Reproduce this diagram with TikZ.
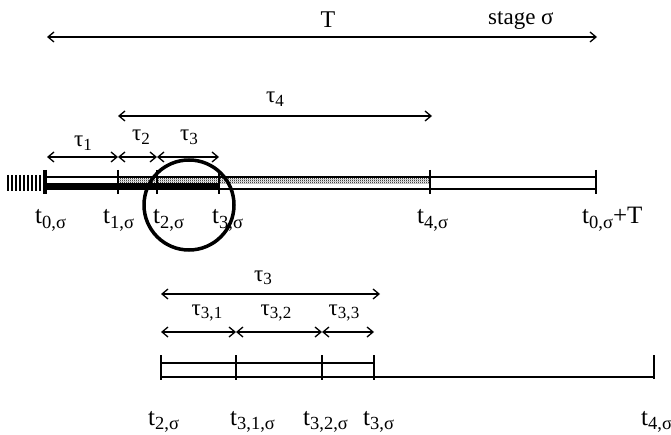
\documentclass[tikz,border=0pt]{standalone}
\usepackage{fontspec}
\setmainfont{Liberation Serif}
\usetikzlibrary{arrows.meta,patterns}
\pgfdeclarepatternformonly{finechecker}{\pgfpointorigin}{\pgfqpoint{2pt}{2pt}}{\pgfqpoint{2pt}{2pt}}{%
  \pgfpathrectangle{\pgfpointorigin}{\pgfqpoint{1pt}{1pt}}%
  \pgfpathrectangle{\pgfqpoint{1pt}{1pt}}{\pgfqpoint{1pt}{1pt}}%
  \pgfusepath{fill}}
\newcommand{\lsub}[1]{\raisebox{-0.17em}{\scalebox{0.74}{#1}}}
\begin{document}
\begin{tikzpicture}[x=1pt,y=-1pt,
  dim/.style={line width=1.3pt,{Straight Barb[length=6pt,width=10pt]}-{Straight Barb[length=6pt,width=10pt]}},
  barline/.style={line width=1.8pt},
  tickline/.style={line width=1.8pt},
  lbl/.style={anchor=base west,inner sep=0pt,font=\fontsize{25}{25}\selectfont},
  tlbl/.style={anchor=base,inner sep=0pt,font=\fontsize{23}{23}\selectfont}]
\useasboundingbox (0,0) rectangle (671,435);

% ---- top span T
\coordinate (Tl) at (47,37);
\coordinate (Tr) at (597,37);
\draw[dim] (Tl) -- (Tr);
\node[tlbl,font=\fontsize{24}{24}\selectfont] (Tlab) at (328,28) {T};
\node[lbl,font=\fontsize{23}{23}\selectfont] (stage) at (488,25) {stage σ};

% ---- tau4
\coordinate (f1) at (118,116);
\coordinate (f4) at (432,116);
\draw[dim] (f1) -- (f4);
\node[tlbl] (tau4) at (275,103) {τ\lsub{4}};

% ---- tau1..3
\coordinate (d0) at (47,157);
\coordinate (d1) at (118,157);
\coordinate (d2) at (157,157);
\coordinate (d3) at (219,157);
\draw[dim] (d0) -- (d1);
\draw[dim] (d1) -- (d2);
\draw[dim] (d2) -- (d3);
\node[tlbl] (tau1) at (83,147) {τ\lsub{1}};
\node[tlbl] (tau2) at (141,141) {τ\lsub{2}};
\node[tlbl] (tau3) at (189,141) {τ\lsub{3}};

% ---- upper bar
\fill[pattern=finechecker,pattern color=black] (118,177) rectangle (430,184);
\fill (47,183) rectangle (219,189);
\foreach \x in {8,12,...,40} \draw[line width=2pt] (\x,175) -- (\x,191);
\coordinate (a0) at (47,177);
\coordinate (a5) at (597,177);
\coordinate (b0) at (47,189);
\coordinate (b5) at (597,189);
\draw[barline] (a0) -- (a5);
\draw[barline] (b0) -- (b5);
\draw[line width=3.5pt] (45,170) -- (45,194);
\foreach \x in {118,157,219,430,596} \draw[tickline] (\x,170) -- (\x,194);

\node[lbl] (t0) at (35,224) {t\lsub{0,σ}};
\node[lbl] (t1) at (103,224) {t\lsub{1,σ}};
\node[lbl] (t2) at (153,224) {t\lsub{2,σ}};
\node[lbl] (t3) at (212,224) {t\lsub{3,σ}};
\node[lbl] (t4) at (417,224) {t\lsub{4,σ}};
\node[lbl] (tT) at (582,224) {t\lsub{0,σ}+T};

% ---- circle
\draw[line width=3.5pt] (189,205) circle[radius=45pt];

% ---- lower part
\coordinate (g0) at (161,294);
\coordinate (g3) at (380,294);
\draw[dim] (g0) -- (g3);
\node[tlbl] (tau3b) at (263,281) {τ\lsub{3}};

\coordinate (h0) at (161,332);
\coordinate (h1) at (236,332);
\coordinate (h2) at (322,332);
\coordinate (h3) at (374,332);
\draw[dim] (h0) -- (h1);
\draw[dim] (h1) -- (h2);
\draw[dim] (h2) -- (h3);
\node[tlbl] (tau31) at (207,315) {τ\lsub{3,1}};
\node[tlbl] (tau32) at (276,315) {τ\lsub{3,2}};
\node[tlbl] (tau33) at (344,315) {τ\lsub{3,3}};

\coordinate (p0) at (161,363);
\coordinate (p3) at (374,363);
\coordinate (q0) at (161,377);
\coordinate (q4) at (654,377);
\draw[barline] (p0) -- (p3);
\draw[barline] (q0) -- (q4);
\foreach \x in {161,236,322,374} \draw[tickline] (\x,355) -- (\x,380);
\draw[tickline] (654,355) -- (654,379);

\node[lbl] (s2) at (148,425) {t\lsub{2,σ}};
\node[lbl] (s31) at (230,425) {t\lsub{3,1,σ}};
\node[lbl] (s32) at (303,425) {t\lsub{3,2,σ}};
\node[lbl] (s3) at (363,425) {t\lsub{3,σ}};
\node[lbl] (s4) at (641,425) {t\lsub{4,σ}};
\end{tikzpicture}
\end{document}
